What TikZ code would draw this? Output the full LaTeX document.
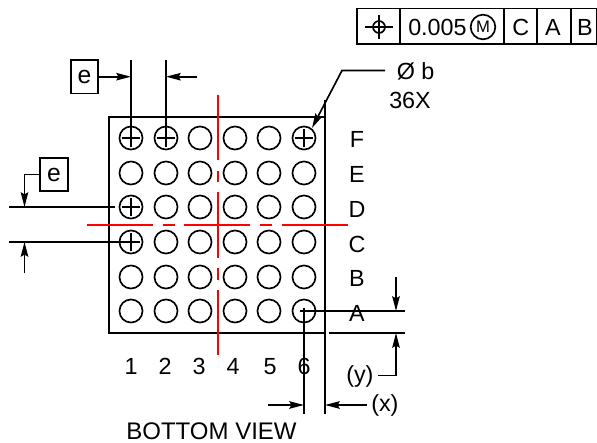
\documentclass[tikz,border=0pt]{standalone}
\usepackage{fontspec}
\setmainfont{Liberation Sans}
\usetikzlibrary{arrows.meta}
\tikzset{x=0.75pt,y=-0.75pt,
 ln/.style={draw=black,line width=1.25pt},
 redln/.style={draw=red,line width=1.15pt},
 ball/.style={circle,draw=black,line width=1.25pt,minimum size=17.3pt,inner sep=0pt},
 lab/.style={inner sep=0pt,font=\fontsize{17.5pt}{20pt}\selectfont},
 ebox/.style={draw=black,line width=1.25pt,minimum width=20.7pt,minimum height=25pt,inner sep=0pt,font=\fontsize{18.5pt}{20pt}\selectfont},
 arr/.style={ln,-{Stealth[length=11pt,width=5.6pt,inset=1.5pt]}}
}
\begin{document}
\begin{tikzpicture}
\useasboundingbox (0,0) rectangle (597,443);
% package outline
\draw[ln] (325,117) -- (109,117) -- (109,333) -- (325,333);
\draw[ln] (325,100) -- (325,414);
% balls
\foreach \c/\cx in {1/131,2/166,3/200,4/235,5/269,6/304}
 \foreach \r/\ry in {F/138,E/173,D/207,C/242,B/277,A/311}
  \node[ball] (b\r\c) at (\cx,\ry) {};
% crosses
\foreach \n in {bF1,bF2,bF6,bD1,bC1}{
 \draw[ln] ([xshift=-7pt]\n.center) -- ([xshift=7pt]\n.center);
 \draw[ln] ([yshift=-7pt]\n.center) -- ([yshift=7pt]\n.center);
}
% red centre lines
\foreach \a/\b in {95/160,171/182,192/258,268/280,290/355} \draw[redln] (218,\a) -- (218,\b);
\foreach \a/\b in {87/153,163/175,184/250,260/272,282/348} \draw[redln] (\a,225) -- (\b,225);
% e top
\node[ebox] (e1) at (84.5,76.7) {e};
\coordinate (t1) at (131,60); \coordinate (t2) at (166,60);
\draw[ln] (t1) -- (bF1.center);
\draw[ln] (t2) -- (bF2.center);
\draw[arr] (e1.east) -- (131,76.7);
\coordinate (e1r) at (197,76.7);
\draw[arr] (e1r) -- (166,76.7);
% e left
\node[ebox] (e2) at (54,174.5) {e};
\draw[arr] (e2.west) -- (24.5,174.5) -- (24.5,207);
\coordinate (l1) at (9,207); \coordinate (l2) at (9,242);
\draw[ln] (l1) -- (115,207);
\draw[ln] (l2) -- (bC1.center);
\coordinate (e2b) at (24.5,273);
\draw[arr] (e2b) -- (24.5,242);
% feature control frame
\draw[ln] (597,8.5) -- (357,8.5) -- (357,43.7) -- (597,43.7) -- cycle;
\foreach \x in {400,504,537,571} \draw[ln] (\x,8.5) -- (\x,43.7);
\node[circle,draw=black,line width=1.25pt,minimum size=9pt,inner sep=0pt] (sym) at (379,27) {};
\draw[ln] (365,27) -- (393,27);
\draw[ln] (379,15) -- (379,39);
\node[lab,anchor=base west] (t005) at (408,35) {0.005};
\node[circle,draw=black,line width=1.25pt,minimum size=18.5pt,inner sep=0pt,font=\fontsize{12.5pt}{14pt}\selectfont] (mm) at (483,27) {M};
\node[lab,anchor=base] at (520.7,35) {C};
\node[lab,anchor=base] at (553,35) {A};
\node[lab,anchor=base] at (585,35) {B};
% phi b
\node[lab,anchor=base west] (phib) at (396.5,79) {Ø b};
\node[lab,anchor=base west] (x36) at (389,108) {36X};
\coordinate (kink) at (342,70.5);
\draw[arr] (385,70.5) -- (kink) -- (312,128);
% letters
\foreach \t/\y in {F/147,E/182,D/217,C/252,B/286,A/321}
 \node[lab,anchor=base] at (357,\y) {\t};
\foreach \t/\x in {1/131,2/165,3/199,4/233,5/270,6/304}
 \node[lab,anchor=base] at (\x,374) {\t};
% y dim
\draw[ln] ([xshift=-3pt]bA6.center) -- (405,311);
\draw[ln] (329,333) -- (405,333);
\coordinate (yt) at (396,277);
\draw[arr] (yt) -- (396,311);
\node[lab,anchor=base west] (ylab) at (346,382) {(y)};
\draw[arr] (378,375.5) -- (396,375.5) -- (396,333);
% x dim
\draw[ln] ([yshift=2pt]bA6.center) -- (304,414);
\coordinate (xl) at (268,405);
\draw[arr] (xl) -- (304,405);
\node[lab,anchor=base west] (xlab) at (371,411.5) {(x)};
\draw[arr] (367,405) -- (325,405);
\node[lab,anchor=base,font=\fontsize{18pt}{20pt}\selectfont] (title) at (211.5,439) {BOTTOM VIEW};
\end{tikzpicture}
\end{document}
